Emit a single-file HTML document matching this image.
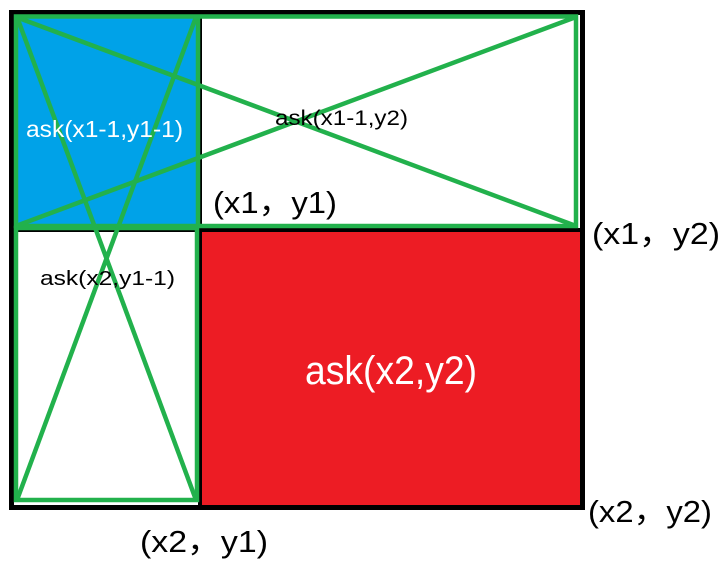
<!DOCTYPE html>
<html><head><meta charset="utf-8"><style>
html,body{margin:0;padding:0;background:#fff;}
body{width:726px;height:564px;overflow:hidden;position:relative;}
svg{position:absolute;left:0;top:0;}
text{font-family:"Liberation Sans","Noto Sans CJK SC",sans-serif;}
</style></head><body>
<svg width="726" height="564" viewBox="0 0 726 564">
  <rect x="14" y="14" width="186" height="214" fill="#00a2e8"/>
  <rect x="202" y="231" width="379" height="275" fill="#ed1c24"/>
  <rect x="11.5" y="12.5" width="571" height="495" fill="none" stroke="#000" stroke-width="5"/>
  <line x1="14" y1="230" x2="584" y2="230" stroke="#000" stroke-width="4"/>
  <line x1="200" y1="14" x2="200" y2="506" stroke="#000" stroke-width="4"/>
  <g stroke="#22b14c" stroke-width="4.5" fill="none">
    <rect x="16" y="16.5" width="560" height="209.5"/>
    <line x1="198" y1="16" x2="198" y2="226"/>
    <rect x="16" y="228" width="181" height="272"/>
    <line x1="16" y1="17" x2="576" y2="226"/>
    <line x1="16" y1="226" x2="576" y2="17"/>
    <line x1="17" y1="17" x2="196" y2="500"/>
    <line x1="196" y1="17" x2="17" y2="500"/>
  </g>
  <text x="26" y="137" font-size="23" fill="#fff" textLength="157" lengthAdjust="spacingAndGlyphs">ask(x1-1,y1-1)</text>
  <text x="275" y="125" font-size="21" fill="#000" textLength="133" lengthAdjust="spacingAndGlyphs">ask(x1-1,y2)</text>
  <text x="213" y="213" font-size="31" fill="#000" textLength="124" lengthAdjust="spacingAndGlyphs">(x1，y1)</text>
  <text x="592" y="244" font-size="31" fill="#000" textLength="128" lengthAdjust="spacingAndGlyphs">(x1，y2)</text>
  <text x="40" y="285" font-size="20" fill="#000" textLength="135" lengthAdjust="spacingAndGlyphs">ask(x2,y1-1)</text>
  <text x="305" y="384" font-size="40" fill="#fff" textLength="172" lengthAdjust="spacingAndGlyphs">ask(x2,y2)</text>
  <text x="588" y="522" font-size="31" fill="#000" textLength="124" lengthAdjust="spacingAndGlyphs">(x2，y2)</text>
  <text x="140" y="552" font-size="31" fill="#000" textLength="128" lengthAdjust="spacingAndGlyphs">(x2，y1)</text>
</svg>
</body></html>
